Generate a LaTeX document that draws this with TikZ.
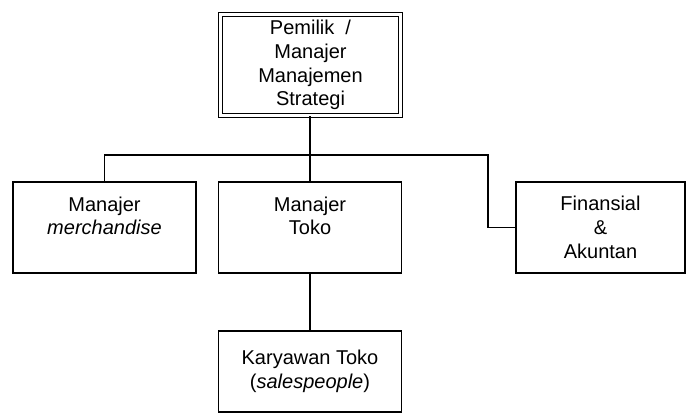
\documentclass[tikz,border=0pt]{standalone}
\usepackage{fontspec}
\setmainfont{Liberation Sans}
\usepackage{tikz}
\usetikzlibrary{positioning}
\usetikzlibrary{calc}
\tikzstyle{jabatan} = [draw, rectangle, line width=1.1pt, align=center,
minimum width=183*0.75pt, minimum height=91*0.75pt, inner sep=2pt]
\tikzstyle{garis} = [draw, line width=1.1pt]

\begin{document}
\begin{tikzpicture}[x=0.75pt, y=-0.75pt,
            every node/.style={font=\fontsize{15}{17.8}\selectfont},
            puncak/.style={jabatan, double, double distance=1.6pt,
            line width=1pt, minimum width=180*0.75pt, minimum height=101*0.75pt}]
            \useasboundingbox (0,0) rectangle (686,414);
            \node[puncak] (pemilik) at (310.5,65) {Pemilik~~/\\Manajer\\Manajemen\\Strategi};
            \node[jabatan] (merch) at (104.5,227.5) {Manajer\\\textit{merchandise}\\~};
            \node[jabatan] (toko) at (310,227.5) {Manajer\\Toko\\~};
            \node[jabatan, minimum width=169*0.75pt] (finan) at (600.5,227.5) {Finansial\\\&\\Akuntan};
            \node[jabatan, minimum height=81*0.75pt] (karyawan) at (310,371.5) {Karyawan Toko\\(\textit{salespeople})};
            %% garis komando
            \coordinate (belok) at (488,155);
            \path [garis] (pemilik.south -| toko.north) -- (toko.north);
            \path [garis] (merch.north) |- (belok) |- (finan.west);
            \path [garis] (toko.south) -- (karyawan.north);
        \end{tikzpicture}
\end{document}
